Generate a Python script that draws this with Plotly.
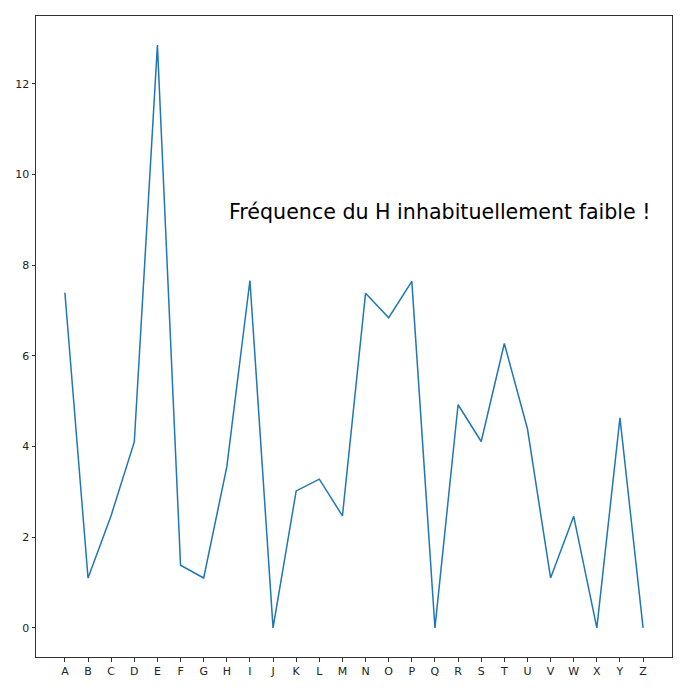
import plotly.graph_objects as go

letters = list("ABCDEFGHIJKLMNOPQRSTUVWXYZ")
freq = [7.39, 1.10, 2.48, 4.10, 12.85, 1.38, 1.10, 3.55, 7.66, 0.0,
        3.02, 3.28, 2.47, 7.38, 6.84, 7.64, 0.0, 4.92, 4.11, 6.27,
        4.39, 1.10, 2.46, 0.0, 4.63, 0.0]
yticks = [0, 2, 4, 6, 8, 10, 12]
note = "Fréquence du H inhabituellement faible !"

idx = list(range(len(letters)))

fig = go.Figure()
fig.add_trace(go.Scatter(x=idx, y=freq, mode="lines",
                         line=dict(color="#1f77b4", width=1.5),
                         hoverinfo="skip"))

fig.add_annotation(x=7, y=9, text=note, xref="x", yref="y",
                   xanchor="left", yanchor="bottom", showarrow=False,
                   yshift=-6,
                   font=dict(family="DejaVu Sans", size=20.6, color="black"))

fig.update_layout(
    width=676, height=683,
    margin=dict(l=25, r=12, t=7, b=34),
    paper_bgcolor="white", plot_bgcolor="white",
    showlegend=False,
    font=dict(family="DejaVu Sans", size=10, color="#222"),
)
fig.update_xaxes(range=[-1.25, 26.25], tickmode="array", tickvals=idx,
                 ticktext=letters, showgrid=False, zeroline=False,
                 showline=True, linecolor="#333", linewidth=1, mirror=True,
                 ticks="outside", ticklen=3.5, tickcolor="#333",
                 tickfont=dict(size=11))
fig.update_yaxes(range=[-0.6425, 13.4925], tickmode="array", tickvals=yticks,
                 showgrid=False, zeroline=False,
                 showline=True, linecolor="#333", linewidth=1, mirror=True,
                 ticks="outside", ticklen=3.5, tickcolor="#333",
                 tickfont=dict(size=11))

fig.write_html("out.html")
